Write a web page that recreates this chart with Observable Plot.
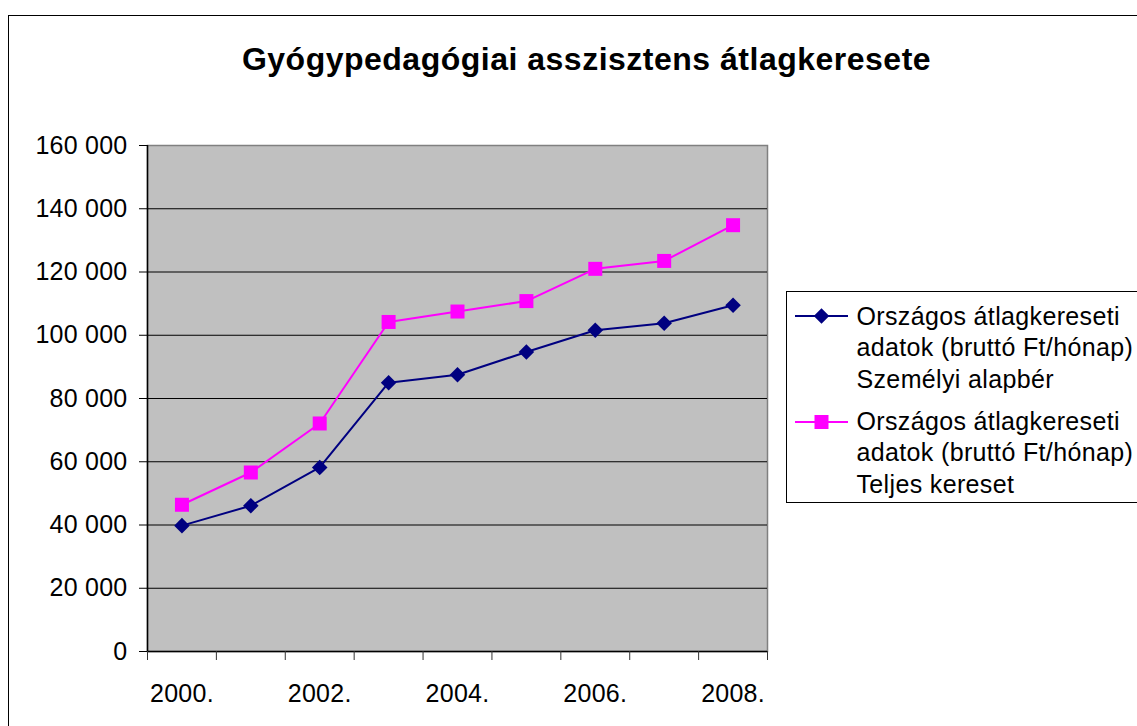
<!DOCTYPE html>
<html>
<head>
<meta charset="utf-8">
<script src="https://cdn.jsdelivr.net/npm/d3@7"></script>
<script src="https://cdn.jsdelivr.net/npm/@observablehq/plot@0.6"></script>
<style>
  html, body { margin: 0; padding: 0; background: #fff; }
  #wrap { position: relative; width: 1137px; height: 726px; overflow: hidden; font-family: "Liberation Sans", Arial, sans-serif; }
  #chart { position: absolute; left: 0; top: 0; }
  #outer { position: absolute; left: 8px; top: 15px; width: 1200px; height: 800px; border: 1.5px solid #000; box-sizing: border-box; pointer-events: none; }
  #title { position: absolute; left: 0; top: 43px; width: 1173px; text-align: center; font-size: 32px; line-height: 32px; font-weight: bold; letter-spacing: 0.5px; color: #000; }
  #legend { position: absolute; left: 786px; top: 291px; width: 400px; height: 212px; border: 1.5px solid #000; background: #fff; box-sizing: border-box; }
  .entry { position: absolute; left: 0; }
  .entry svg { position: absolute; left: 7.5px; }
  .entry .txt { position: absolute; left: 69.5px; width: 300px; font-size: 25px; line-height: 31.5px; letter-spacing: 0.35px; color: #000; white-space: nowrap; }
</style>
</head>
<body>
<div id="wrap">
  <div id="chart"></div>
  <div id="outer"></div>
  <div id="title"></div>
  <div id="legend"></div>
</div>
<script>
const title = "Gyógypedagógiai asszisztens átlagkeresete";
const years = [2000, 2001, 2002, 2003, 2004, 2005, 2006, 2007, 2008];
const xLabelYears = [2000, 2002, 2004, 2006, 2008];
const alapber = [39800, 46100, 58200, 85000, 87500, 94700, 101600, 103800, 109500];
const teljes = [46400, 56600, 72100, 104200, 107500, 110800, 121000, 123500, 134800];
const yTicks = [0, 20000, 40000, 60000, 80000, 100000, 120000, 140000, 160000];
const seriesLines = [
  ["Országos átlagkereseti", "adatok (bruttó Ft/hónap)", "Személyi alapbér"],
  ["Országos átlagkereseti", "adatok (bruttó Ft/hónap)", "Teljes kereset"]
];
const seriesColors = ["#000080", "#FF00FF"];
const seriesSymbols = ["diamond2", "square"];

const s1 = years.map((y, i) => ({year: y, value: alapber[i]}));
const s2 = years.map((y, i) => ({year: y, value: teljes[i]}));
const xDomain = [years[0] - 0.5, years[years.length - 1] + 0.5];
const boundaries = [...years.map(y => y - 0.5), years[years.length - 1] + 0.5];
const fmtY = d => d3.format(",")(d).replace(/,/g, " ");

const chart = Plot.plot({
  width: 1137,
  height: 726,
  marginTop: 145,
  marginLeft: 147,
  marginRight: 370,
  marginBottom: 75,
  style: {fontFamily: "'Liberation Sans', Arial, sans-serif", fontSize: "25px", letterSpacing: "0.25px", color: "#000", background: "transparent"},
  x: {type: "linear", domain: xDomain},
  y: {domain: [0, 160000]},
  marks: [
    Plot.frame({fill: "#c0c0c0", stroke: "#808080", strokeWidth: 1.5}),
    Plot.gridY(yTicks.filter(v => v > 0 && v < 160000), {stroke: "#000", strokeOpacity: 1, strokeWidth: 1.2}),
    Plot.ruleY([0], {stroke: "#000", strokeWidth: 1.5}),
    Plot.ruleX([xDomain[0]], {stroke: "#000", strokeWidth: 1.5}),
    Plot.axisY(yTicks, {tickSize: 8, tickPadding: 12, tickFormat: fmtY, label: null, fontSize: 25, stroke: "#000"}),
    Plot.axisX(boundaries, {tickSize: 9, tickFormat: () => "", label: null, stroke: "#333"}),
    Plot.axisX(xLabelYears, {tickSize: 0, tickPadding: 33, tickFormat: d => `${d}.`, label: null, fontSize: 25}),
    Plot.line(s1, {x: "year", y: "value", stroke: seriesColors[0], strokeWidth: 2}),
    Plot.line(s2, {x: "year", y: "value", stroke: seriesColors[1], strokeWidth: 2}),
    Plot.dot(s1, {x: "year", y: "value", symbol: seriesSymbols[0], r: 7, fill: seriesColors[0], stroke: "none"}),
    Plot.dot(s2, {x: "year", y: "value", symbol: seriesSymbols[1], r: 7.9, fill: seriesColors[1], stroke: "none"})
  ]
});
document.getElementById("chart").appendChild(chart);
document.getElementById("title").textContent = title;

// Legend
const legend = document.getElementById("legend");
const entryTops = [8.6, 113.6];
const markerCenters = [24.2, 130.2];
seriesLines.forEach((lines, i) => {
  const entry = document.createElement("div");
  entry.className = "entry";
  entry.style.top = entryTops[i] + "px";
  const cy = 15;
  const svg = d3.create("svg").attr("width", 56).attr("height", 30)
    .style("top", (markerCenters[i] - cy - entryTops[i]) + "px");
  svg.append("line").attr("x1", 0).attr("x2", 53).attr("y1", cy).attr("y2", cy)
     .attr("stroke", seriesColors[i]).attr("stroke-width", 2);
  const sym = i === 0 ? d3.symbolDiamond2 : d3.symbolSquare;
  const size = i === 0 ? Math.PI * 7 * 7 : Math.PI * 7.9 * 7.9;
  svg.append("path").attr("d", d3.symbol(sym, size)()).attr("transform", `translate(26.5,${cy})`)
     .attr("fill", seriesColors[i]);
  entry.appendChild(svg.node());
  const txt = document.createElement("div");
  txt.className = "txt";
  txt.style.top = "0px";
  txt.innerHTML = lines.join("<br>");
  entry.appendChild(txt);
  legend.appendChild(entry);
});
</script>
</body>
</html>
